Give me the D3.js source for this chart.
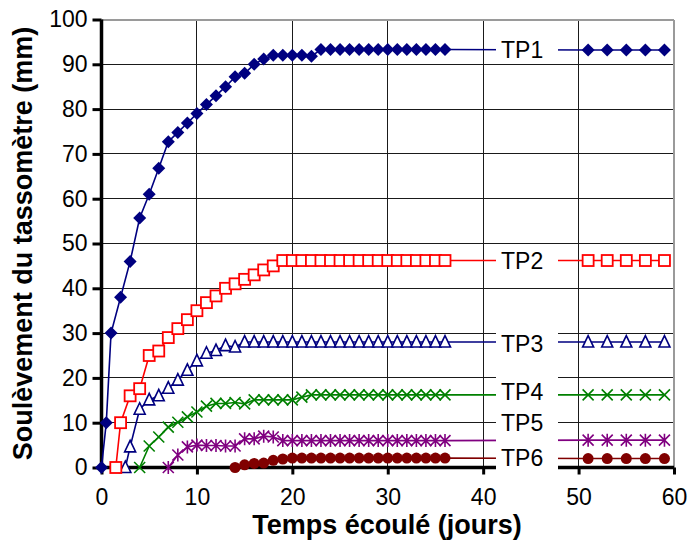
<!DOCTYPE html>
<html>
<head>
<meta charset="utf-8">
<script src="https://cdn.jsdelivr.net/npm/d3@7/dist/d3.min.js"></script>
<style>
html,body{margin:0;padding:0;background:#fff;}
svg{display:block;}
text{font-family:"Liberation Sans",Arial,sans-serif;}
</style>
</head>
<body>
<svg id="chart" width="688" height="546"></svg>
<script>
// ---- data ----
const seriesNames = ["TP1","TP2","TP3","TP4","TP5","TP6"];
const seriesColors = ["#000080","#FF0000","#000080","#008000","#800080","#800000"];
const seriesMarkers = ["diamond","square","triangle","cross","star","circle"];

const tp1Days = [0,0.5,1,2,3,4,5,6,7,8,9,10,11,12,13,14,15,16,17,18,19,20,21,22,23,24,25,26,27,28,29,30,31,32,33,34,35,36];
const tp1Values = [0,10,30,38,46,55.7,61,66.8,72.7,74.8,76.9,79,81,83,85,87.2,88,90,91.2,92,92,92,92,91.8,93.3,93.3,93.3,93.3,93.3,93.3,93.3,93.3,93.3,93.3,93.3,93.3,93.3,93.3];

const tp2Days = [1.5,2,3,4,5,6,7,8,9,10,11,12,13,14,15,16,17,18,19,20,21,22,23,24,25,26,27,28,29,30,31,32,33,34,35,36];
const tp2Values = [0,10,16,17.6,25,26,29,31,33,35,36.8,38.3,40,41,42,43,44.1,45,46.2,46.2,46.2,46.2,46.2,46.2,46.2,46.2,46.2,46.2,46.2,46.2,46.2,46.2,46.2,46.2,46.2,46.2];

const tp3Days = [2.5,3,4,5,6,7,8,9,10,11,12,13,14,15,16,17,18,19,20,21,22,23,24,25,26,27,28,29,30,31,32,33,34,35,36];
const tp3Values = [0,4.6,13,15.1,16,17.7,19.5,21.7,23.8,25.5,26.1,27.2,26.9,28,28,28,28,28,28,28,28,28,28,28,28,28,28,28,28,28,28,28,28,28,28];

const tp4Days = [4,5,6,7,8,9,10,11,12,13,14,15,16,17,18,19,20,21,22,23,24,25,26,27,28,29,30,31,32,33,34,35,36];
const tp4Values = [0,4.8,6.8,9,10.1,11.3,12.4,13.7,14.3,14.3,14.5,14.2,15.1,15.1,15.1,15.1,15.1,15.7,16.2,16.2,16.2,16.2,16.2,16.2,16.2,16.2,16.2,16.2,16.2,16.2,16.2,16.2,16.2];

const tp5Days = [7,8,9,10,11,12,13,14,15,16,17,18,19,20,21,22,23,24,25,26,27,28,29,30,31,32,33,34,35,36];
const tp5Values = [0,2.8,4.6,5,4.9,4.9,4.8,4.8,6.4,6.4,7,6.8,6,6,6,6,6,6,6,6,6,6,6,6,6,6,6,6,6,6];

const tp6Days = [14,15,16,17,18,19,20,21,22,23,24,25,26,27,28,29,30,31,32,33,34,35,36];
const tp6Values = [0,0.6,0.9,1,1.6,1.9,2.1,2.1,2.1,2.1,2.1,2.1,2.1,2.1,2.1,2.1,2.1,2.1,2.1,2.1,2.1,2.1,2.1];

// late readings shown at the right of the chart
const tailDays = [51,53,55,57,59];
const tailValues = [93.2,46.2,28,16.2,6.1,2];

const xTicks = [0,10,20,30,40,50,60];
const yTicks = [0,10,20,30,40,50,60,70,80,90,100];
const xTitle = "Temps écoulé (jours)";
const yTitle = "Soulèvement du tassomètre (mm)";

// ---- layout ----
const W = 688, H = 546;
const margin = {top:19.5, right:14, bottom:78.5, left:101.5};
const svg = d3.select("#chart");
const x = d3.scaleLinear().domain([0,60]).range([margin.left, W - margin.right]);
const y = d3.scaleLinear().domain([0,100]).range([H - margin.bottom, margin.top]);

const FONT = 23;

// grid
const grid = svg.append("g").attr("shape-rendering","crispEdges");
grid.selectAll("line.h").data(yTicks.filter(v => v > 0 && v < 100)).join("line")
  .attr("x1", x(0)).attr("x2", x(60)).attr("y1", d => y(d)).attr("y2", d => y(d))
  .attr("stroke","#1a1a1a").attr("stroke-width",1);
grid.selectAll("line.v").data(xTicks.filter(v => v > 0 && v < 60)).join("line")
  .attr("y1", y(0)).attr("y2", y(100)).attr("x1", d => x(d)).attr("x2", d => x(d))
  .attr("stroke","#1a1a1a").attr("stroke-width",1);
// top & right border
grid.append("line").attr("x1",x(0)).attr("x2",x(60)).attr("y1",y(100)).attr("y2",y(100)).attr("stroke","#9a9a9a").attr("stroke-width",2);
grid.append("line").attr("x1",x(60)).attr("x2",x(60)).attr("y1",y(100)).attr("y2",y(0)).attr("stroke","#9a9a9a").attr("stroke-width",2);

// axes
const yAxis = svg.append("g").attr("transform",`translate(${x(0)},0)`)
  .call(d3.axisLeft(y).tickValues(yTicks).tickSize(9).tickSizeOuter(0).tickPadding(5));
const xAxis = svg.append("g").attr("transform",`translate(0,${y(0)})`)
  .call(d3.axisBottom(x).tickValues(xTicks).tickSize(7).tickSizeOuter(0).tickPadding(14));
[yAxis, xAxis].forEach(a => {
  a.select(".domain").attr("stroke","#000").attr("stroke-width",3.5);
  a.selectAll(".tick line").attr("stroke","#000").attr("stroke-width",3);
  a.selectAll(".tick text").attr("font-size",FONT).attr("fill","#000")
   .style("font-family","'Liberation Sans',Arial,sans-serif");
});
yAxis.select(".domain").attr("d", `M0,${y(100)}V${y(0)+1.5}`);
xAxis.select(".domain").attr("d", `M${x(0)-1.5},0H${x(60)}`);

// titles
svg.append("text").attr("x", 387).attr("y", 534).attr("text-anchor","middle")
  .attr("font-size",27).attr("font-weight","bold").text(xTitle);
svg.append("text").attr("transform",`translate(32,${(y(0)+y(100))/2}) rotate(-90)`)
  .attr("text-anchor","middle").attr("font-size",27).attr("font-weight","bold").text(yTitle);

// series
const allDays = [tp1Days,tp2Days,tp3Days,tp4Days,tp5Days,tp6Days];
const allValues = [tp1Values,tp2Values,tp3Values,tp4Values,tp5Values,tp6Values];

function marker(g, type, color){
  const s = 5.5;
  if(type==="diamond"){
    g.append("path").attr("d",`M0,${-s-1}L${s+1},0L0,${s+1}L${-s-1},0Z`).attr("fill",color);
  } else if(type==="square"){
    g.append("rect").attr("x",-s).attr("y",-s).attr("width",2*s).attr("height",2*s)
      .attr("fill","#fff").attr("stroke",color).attr("stroke-width",1.8);
  } else if(type==="triangle"){
    g.append("path").attr("d",`M0,${-s-1}L${s},${s-0.5}L${-s},${s-0.5}Z`)
      .attr("fill","#fff").attr("stroke",color).attr("stroke-width",1.6);
  } else if(type==="cross"){
    g.append("path").attr("d",`M${-s},${-s}L${s},${s}M${-s},${s}L${s},${-s}`)
      .attr("stroke",color).attr("stroke-width",1.6).attr("fill","none");
  } else if(type==="star"){
    g.append("path").attr("d",`M${-s},${-s}L${s},${s}M${-s},${s}L${s},${-s}M0,${-s-1}L0,${s+1}`)
      .attr("stroke",color).attr("stroke-width",1.6).attr("fill","none");
  } else if(type==="circle"){
    g.append("circle").attr("r",s).attr("fill",color);
  }
}

const line = d3.line().x(d => x(d[0])).y(d => y(d[1]));
const seriesG = svg.append("g");
// draw in reverse so TP1 is on top
for(let i = seriesNames.length - 1; i >= 0; i--){
  const pts = allDays[i].map((d,k) => [d, allValues[i][k]]);
  const tail = tailDays.map(d => [d, tailValues[i]]);
  const full = pts.concat(tail);
  const g = seriesG.append("g");
  g.append("path").attr("d", line(full)).attr("fill","none")
    .attr("stroke", seriesColors[i]).attr("stroke-width", 1.6);
  g.selectAll("g.m").data(full).join("g")
    .attr("transform", d => `translate(${x(d[0])},${y(d[1])})`)
    .each(function(){ marker(d3.select(this), seriesMarkers[i], seriesColors[i]); });
}

// label boxes (white) and labels
const boxX0 = 496, boxX1 = 558;
const boxes = svg.append("g");
const labelShift = [0,0,0,0,3.8,0];   // TP5 label sits above its line
const labelY = seriesNames.map((n,i) => y(tailValues[i] + labelShift[i]));
boxes.append("rect").attr("x",boxX0).attr("width",boxX1-boxX0)
  .attr("y", labelY[0]-13).attr("height",26).attr("fill","#fff");
boxes.append("rect").attr("x",boxX0).attr("width",boxX1-boxX0)
  .attr("y", labelY[1]-13).attr("height",26).attr("fill","#fff");
boxes.append("rect").attr("x",boxX0).attr("width",boxX1-boxX0)
  .attr("y", labelY[2]-20).attr("height", y(0) + 9 - (labelY[2]-20)).attr("fill","#fff");

const labelCenterAdj = [0,0,2,-3,0,-1];
boxes.selectAll("text.lab").data(seriesNames).join("text")
  .attr("x", 501).attr("y", (d,i) => labelY[i] + labelCenterAdj[i] + 8)
  .attr("font-size", FONT).attr("fill","#000").text(d => d);
</script>
</body>
</html>
